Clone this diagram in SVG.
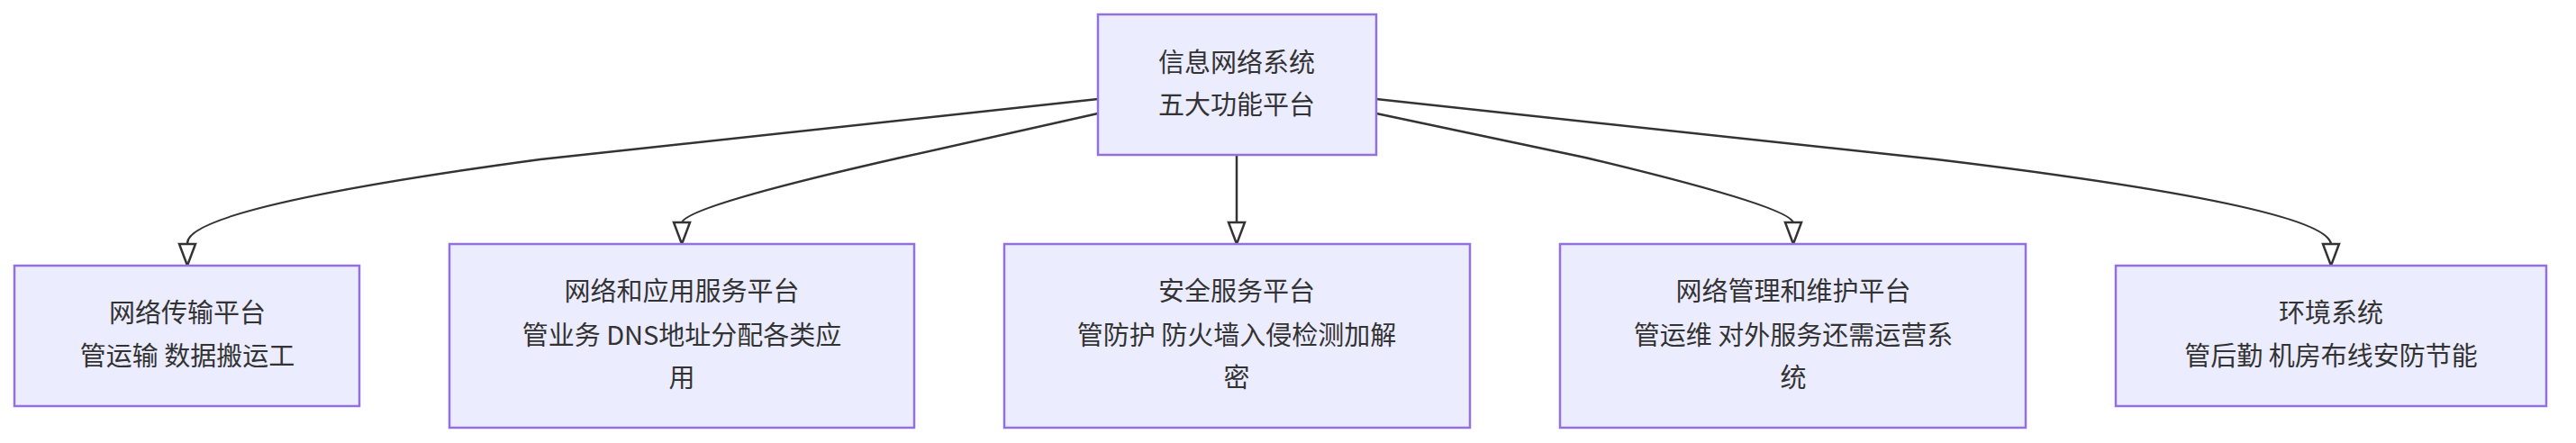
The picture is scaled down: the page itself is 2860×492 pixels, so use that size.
<svg xmlns="http://www.w3.org/2000/svg" width="2860" height="492" viewBox="0 0 2860 492">
<style>
.node rect{fill:#ECECFF;stroke:#9370DB;stroke-width:2.5}
.node text{font-family:"Noto Sans CJK SC","Liberation Sans",sans-serif;font-size:29px;fill:#333;text-anchor:middle}
.edge path{fill:none;stroke:#333;stroke-width:2.5}
</style>
<defs>
<marker id="arr" markerUnits="userSpaceOnUse" markerWidth="20" markerHeight="24" viewBox="0 0 20 24" refX="10" refY="24" orient="auto-start-reverse">
<path d="M0,0 L20,0 L10,24 Z" fill="#333" transform="rotate(0)"/>
</marker>
</defs>
<rect width="2860" height="492" fill="#fff"/>
<g id="connectors" class="edge">
<path d="M1219,110 L600,177 Q208,230 208,270 L208,272" marker-end="url(#arr2)"/>
<path d="M1219,126 L1000,175 Q757,230 757,248"/>
<path d="M1373,172 L1373,248"/>
<path d="M1528,126 L1760,175 Q1991,230 1991,248"/>
<path d="M1528,110 L2150,177 Q2588,230 2588,272"/>
<g fill="#333" stroke="none">
<path d="M199,271 L217,271 L208,295 Z"/>
<path d="M748,247 L766,247 L757,271 Z"/>
<path d="M1364,247 L1382,247 L1373,271 Z"/>
<path d="M1982,247 L2000,247 L1991,271 Z"/>
<path d="M2579,271 L2597,271 L2588,295 Z"/>
</g>
</g>
<g id="n0" class="node"><rect x="1219" y="16" width="309" height="156"/><text x="1373" y="80">信息网络系统</text><text x="1373" y="127">五大功能平台</text></g>
<g id="n1" class="node"><rect x="16" y="295" width="383" height="156"/><text x="208" y="358">网络传输平台</text><text x="208" y="406">管运输 数据搬运工</text></g>
<g id="n2" class="node"><rect x="499" y="271" width="516" height="204"/><text x="757" y="334">网络和应用服务平台</text><text x="757" y="383">管业务 DNS地址分配各类应</text><text x="757" y="430">用</text></g>
<g id="n3" class="node"><rect x="1115" y="271" width="517" height="204"/><text x="1373" y="334">安全服务平台</text><text x="1373" y="383">管防护 防火墙入侵检测加解</text><text x="1373" y="430">密</text></g>
<g id="n4" class="node"><rect x="1732" y="271" width="517" height="204"/><text x="1991" y="334">网络管理和维护平台</text><text x="1991" y="383">管运维 对外服务还需运营系</text><text x="1991" y="430">统</text></g>
<g id="n5" class="node"><rect x="2349" y="295" width="478" height="156"/><text x="2588" y="358">环境系统</text><text x="2588" y="406">管后勤 机房布线安防节能</text></g>
</svg>
